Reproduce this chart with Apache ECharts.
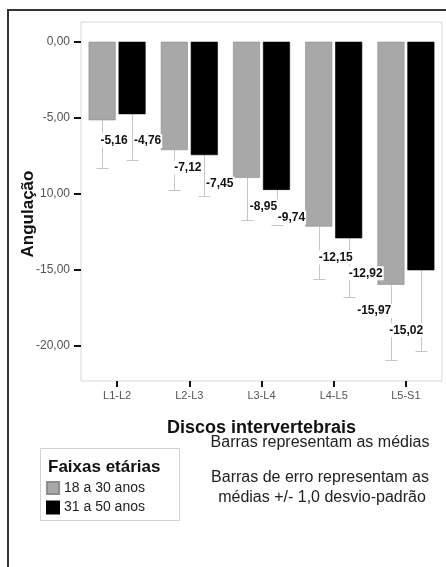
<!DOCTYPE html>
<html>
<head>
<meta charset="utf-8">
<script src="https://cdn.jsdelivr.net/npm/echarts@6/dist/echarts.min.js"></script>
<style>
  html, body { margin: 0; padding: 0; background: #fff; }
  #chart { width: 446px; height: 567px; }
</style>
</head>
<body>
<div id="chart"></div>
<script>
  // dados
  const categories = ['L1-L2', 'L2-L3', 'L3-L4', 'L4-L5', 'L5-S1']
  const young = [-5.16, -7.12, -8.95, -12.15, -15.97]
  const older = [-4.76, -7.45, -9.74, -12.92, -15.02]
  const youngSd = [3.17, 2.64, 2.77, 3.42, 4.96]
  const olderSd = [3.03, 2.70, 2.29, 3.86, 5.34]
  const yTicks = [0, -5, -10, -15, -20]
  const yTickLabels = ['0,00', '-5,00', '10,00', '-15,00', '-20,00']
  const groups = ['18 a 30 anos', '31 a 50 anos']

  // ajuste manual da posição dos rótulos (como no SPSS)
  const youngNudge = [[12, 13], [13.5, 10.5], [17, 21.6], [17, 23.8], [-16.7, 19.3]]
  const olderNudge = [[15.5, 20], [15.5, 21.5], [15, 20.6], [17, 28], [-14.7, 53]]

  const FONT = 'Liberation Sans'
  const barWidth = 27
  const shift = 15

  const fmt = v => v.toFixed(2).replace('.', ',')

  function barSeries (name, values, nudge, color) {
    return {
      name: name,
      type: 'bar',
      barWidth: barWidth,
      barGap: '11%',
      z: 2,
      itemStyle: { color: color, borderColor: color === '#000' ? '#000' : '#8c8c8c', borderWidth: 0.6 },
      label: {
        show: true,
        position: 'bottom',
        distance: 0,
        formatter: p => fmt(p.value),
        fontFamily: FONT,
        fontWeight: 'bold',
        fontSize: 12,
        color: '#111',
        backgroundColor: '#fff',
        padding: [1, 1]
      },
      data: values.map((v, i) => ({ value: v, label: { offset: nudge[i] } }))
    }
  }

  function errorSeries (values, sd, dx) {
    return {
      type: 'custom',
      silent: true,
      z: 1,
      encode: { x: 0, y: [1, 2] },
      data: values.map((v, i) => [i, v, v - sd[i]]),
      renderItem: (params, api) => {
        const top = api.coord([api.value(0), api.value(1)])
        const bot = api.coord([api.value(0), api.value(2)])
        const x = Math.round(top[0] + dx) + 0.5
        const y = Math.round(bot[1]) + 0.5
        const style = { stroke: '#c6c6c6', lineWidth: 1 }
        return {
          type: 'group',
          children: [
            { type: 'line', shape: { x1: x, y1: top[1], x2: x, y2: y }, style: style },
            { type: 'line', shape: { x1: x - 6, y1: y, x2: x + 6, y2: y }, style: style }
          ]
        }
      }
    }
  }

  const chart = echarts.init(document.getElementById('chart'))
  const option = {
    backgroundColor: '#fff',
    animation: false,
    textStyle: { fontFamily: FONT },
    grid: {
      left: 81, right: 4, top: 22, bottom: 186,
      show: true, borderColor: '#d8d8d8', borderWidth: 1
    },
    legend: {
      data: groups,
      orient: 'vertical',
      left: 46,
      top: 481,
      padding: 0,
      itemWidth: 12,
      itemHeight: 12,
      itemGap: 5.5,
      icon: 'rect',
      textStyle: { fontFamily: FONT, fontSize: 14, color: '#222' }
    },
    xAxis: {
      type: 'category',
      data: categories,
      name: 'Discos intervertebrais',
      nameLocation: 'middle',
      nameGap: 38,
      nameTextStyle: { fontFamily: FONT, fontWeight: 'bold', fontSize: 18, color: '#111' },
      axisLine: { show: false, onZero: false },
      axisTick: { show: true, alignWithLabel: true, length: 6, lineStyle: { color: '#111', width: 2 } },
      axisLabel: { margin: 9, fontSize: 11, color: '#555', fontFamily: FONT }
    },
    yAxis: {
      type: 'value',
      min: -22.3,
      max: 1.3,
      axisLine: { show: false },
      splitLine: { show: false },
      axisTick: { show: true, customValues: yTicks, length: 7, lineStyle: { color: '#111', width: 2 } },
      axisLabel: {
        customValues: yTicks,
        margin: 11,
        fontSize: 12,
        color: '#555',
        fontFamily: FONT,
        formatter: v => yTickLabels[yTicks.indexOf(v)] || ''
      }
    },
    graphic: [
      { type: 'rect', shape: { x: 8, y: 10, width: 480, height: 600 }, style: { fill: 'none', stroke: '#333', lineWidth: 2 }, silent: true },
      { type: 'text', x: 28, y: 214, rotation: Math.PI / 2, style: { text: 'Angulação', align: 'center', verticalAlign: 'middle', font: 'bold 17px ' + FONT, fill: '#111' } },
      { type: 'rect', shape: { x: 40.5, y: 448.5, width: 139, height: 72 }, style: { fill: 'none', stroke: '#d2d2d2', lineWidth: 1 }, silent: true },
      { type: 'text', x: 48, y: 467, style: { text: 'Faixas etárias', align: 'left', verticalAlign: 'middle', font: 'bold 17px ' + FONT, fill: '#111' } },
      { type: 'text', x: 320, y: 443, style: { text: 'Barras representam as médias', align: 'center', verticalAlign: 'middle', font: '16px ' + FONT, fill: '#222' } },
      { type: 'text', x: 320, y: 478, style: { text: 'Barras de erro representam as', align: 'center', verticalAlign: 'middle', font: '16px ' + FONT, fill: '#222' } },
      { type: 'text', x: 322, y: 498, style: { text: 'médias +/- 1,0 desvio-padrão', align: 'center', verticalAlign: 'middle', font: '16px ' + FONT, fill: '#222' } }
    ],
    series: [
      barSeries(groups[0], young, youngNudge, '#a8a8a8'),
      barSeries(groups[1], older, olderNudge, '#000'),
      errorSeries(young, youngSd, -shift),
      errorSeries(older, olderSd, shift)
    ]
  }
  chart.setOption(option)
  window.addEventListener('resize', chart.resize)
</script>
</body>
</html>
